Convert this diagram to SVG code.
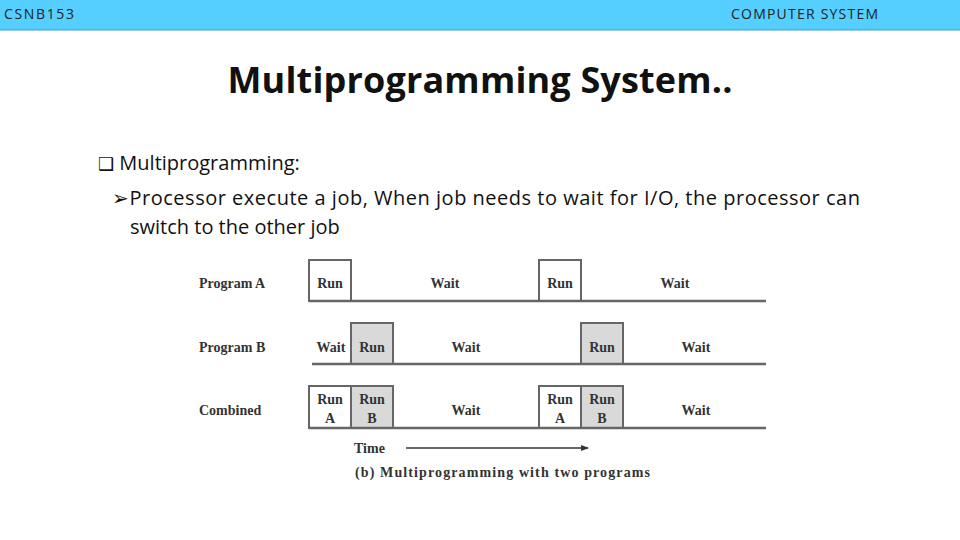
<svg xmlns="http://www.w3.org/2000/svg" width="960" height="540" viewBox="0 0 960 540">
<style>
.h{font-family:"Open Sans","Liberation Sans",sans-serif;font-size:14px;fill:#222}
.b{font-family:"Open Sans","Liberation Sans",sans-serif;font-size:20px;fill:#111}
.f{font-family:"Liberation Serif",serif;font-weight:bold;font-size:14px;fill:#333}
.w{fill:#fff;stroke:#666;stroke-width:2}
.g{fill:#d9d9d9;stroke:#666;stroke-width:2}
.l{stroke:#666;stroke-width:2.5;fill:none}
</style>
<defs><marker id="ar" markerWidth="8" markerHeight="8" refX="7" refY="4" orient="auto" markerUnits="userSpaceOnUse"><path d="M0,1 L8,4 L0,7 Z" fill="#333"/></marker></defs>
<rect width="960" height="540" fill="#fff"/>
<rect width="960" height="30" fill="#55cfff"/>
<line x1="0" y1="30" x2="960" y2="30" stroke="#3aa0cc" stroke-width="1"/>
<text class="h" x="4" y="19" textLength="70">CSNB153</text>
<text class="h" x="878" y="19" text-anchor="end" textLength="147">COMPUTER SYSTEM</text>
<text x="480" y="93" text-anchor="middle" font-family="Open Sans,Liberation Sans,sans-serif" font-weight="bold" font-size="36" fill="#111" textLength="505">Multiprogramming System..</text>
<text class="b" x="98" y="170"><tspan font-family="DejaVu Sans" font-size="18">❑</tspan> Multiprogramming:</text>
<text class="b" x="112" y="205" textLength="748">➢Processor execute a job, When job needs to wait for I/O, the processor can</text>
<text class="b" x="130" y="234">switch to the other job</text>
<g id="rowA">
<text class="f" x="199" y="288">Program A</text>
<rect class="w" x="309" y="260" width="42" height="41"/>
<rect class="w" x="539" y="260" width="42" height="41"/>
<text class="f" x="330" y="288" text-anchor="middle">Run</text>
<text class="f" x="560" y="288" text-anchor="middle">Run</text>
<text class="f" x="445" y="288" text-anchor="middle">Wait</text>
<text class="f" x="675" y="288" text-anchor="middle">Wait</text>
</g>
<g id="rowB">
<text class="f" x="199" y="352">Program B</text>
<rect class="g" x="351" y="323" width="42" height="41"/>
<rect class="g" x="581" y="323" width="42" height="41"/>
<text class="f" x="331" y="352" text-anchor="middle">Wait</text>
<text class="f" x="372" y="352" text-anchor="middle">Run</text>
<text class="f" x="602" y="352" text-anchor="middle">Run</text>
<text class="f" x="466" y="352" text-anchor="middle">Wait</text>
<text class="f" x="696" y="352" text-anchor="middle">Wait</text>
</g>
<g id="rowC">
<text class="f" x="199" y="415">Combined</text>
<rect class="w" x="309" y="386" width="42" height="42"/>
<rect class="g" x="351" y="386" width="42" height="42"/>
<rect class="w" x="539" y="386" width="42" height="42"/>
<rect class="g" x="581" y="386" width="42" height="42"/>
<text class="f" x="330" y="404" text-anchor="middle">Run</text><text class="f" x="330" y="423" text-anchor="middle">A</text>
<text class="f" x="372" y="404" text-anchor="middle">Run</text><text class="f" x="372" y="423" text-anchor="middle">B</text>
<text class="f" x="560" y="404" text-anchor="middle">Run</text><text class="f" x="560" y="423" text-anchor="middle">A</text>
<text class="f" x="602" y="404" text-anchor="middle">Run</text><text class="f" x="602" y="423" text-anchor="middle">B</text>
<text class="f" x="466" y="415" text-anchor="middle">Wait</text>
<text class="f" x="696" y="415" text-anchor="middle">Wait</text>
</g>
<g id="connectors">
<line class="l" x1="309" y1="301" x2="766" y2="301"/>
<line class="l" x1="312" y1="364" x2="766" y2="364"/>
<line class="l" x1="309" y1="428" x2="766" y2="428"/>
<line x1="406" y1="448" x2="588" y2="448" stroke="#333" stroke-width="1.5" marker-end="url(#ar)"/>
</g>
<text class="f" x="354" y="453">Time</text>
<text class="f" x="355" y="477" textLength="295">(b) Multiprogramming with two programs</text>
</svg>
